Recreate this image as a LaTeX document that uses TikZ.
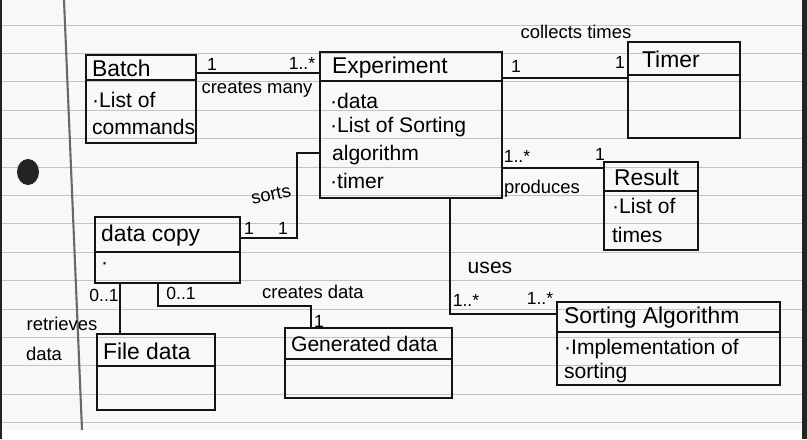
\documentclass[tikz,border=0pt]{standalone}
\usepackage{fontspec}
\setmainfont{Liberation Sans}
\usetikzlibrary{positioning,fit,calc}
\definecolor{ink}{RGB}{20,20,20}
\definecolor{paper}{RGB}{248,248,248}
\definecolor{rule}{RGB}{195,195,195}
\definecolor{margin}{RGB}{105,105,105}
\definecolor{edge}{RGB}{35,35,35}
\tikzset{
    cls/.style={rectangle,draw=ink,line width=1.3pt,inner sep=0pt},
    divider/.style={draw=ink,line width=1.3pt},
    title/.style={anchor=west,inner sep=1pt,font=\fontsize{13}{15}\selectfont},
    attr/.style={anchor=west,inner sep=1pt,font=\fontsize{12}{14}\selectfont},
    lbl/.style={inner sep=1pt,font=\fontsize{10.5}{12}\selectfont},
    mult/.style={inner sep=1pt,font=\fontsize{10}{12}\selectfont},
    conn/.style={draw=ink,line width=1.1pt},
    ruleline/.style={draw=rule,line width=0.5pt},
}

\begin{document}
\begin{tikzpicture}[x=0.2mm,y=-0.2mm]
\useasboundingbox (0,0) rectangle (807,439);
% notebook page
\fill[white] (0,0) rectangle (807,439);
\fill[paper] (2,0) rectangle (802,430);
\fill[edge] (802,0) rectangle (807,439);
\fill[edge] (0,0) rectangle (2,439);
\foreach \k in {0,...,14}
  \draw[ruleline] (2,{25+28.4*\k}) -- (802,{25+28.4*\k});
\draw[margin,line width=1.2pt] (64,0) -- (82,430);
\fill[edge] (28,172) ellipse [x radius=2.2mm, y radius=2.6mm];

% classes
\node[cls,fit={(86,55) (196,143)}] (batch) {};
\draw[divider] (batch.west |- 0,80) -- (batch.east |- 0,80);
\node[title] (batchT) at (90,68) {Batch};
\node[attr] (batchA) at (90,100) {·List of};
\node[attr] (batchB) at (90,127) {commands};

\node[cls,fit={(320,52) (502,198)}] (expt) {};
\draw[divider] (expt.west |- 0,81) -- (expt.east |- 0,81);
\node[title] (exptT) at (330,68) {Experiment};
\node[attr] (exptA) at (328,101) {·data};
\node[attr] (exptB) at (328,127) {·List of Sorting};
\node[attr] (exptC) at (330,155) {algorithm};
\node[attr] (exptD) at (328,181) {·timer};

\node[cls,fit={(628,42) (740,138)}] (timer) {};
\draw[divider] (timer.west |- 0,75) -- (timer.east |- 0,75);
\node[title] (timerT) at (640,59) {Timer};

\node[cls,fit={(604,162) (698,250)}] (result) {};
\draw[divider] (result.west |- 0,191) -- (result.east |- 0,191);
\node[title] (resultT) at (612,177) {Result};
\node[attr] (resultA) at (610,206) {·List of};
\node[attr] (resultB) at (610,235) {times};

\node[cls,fit={(95,217) (240,283)}] (copy) {};
\draw[divider] (copy.west |- 0,252) -- (copy.east |- 0,252);
\node[title] (copyT) at (99,236) {data copy};
\node[attr] (copyA) at (99,266) {·};

\node[cls,fit={(97,334) (215,410)}] (file) {};
\draw[divider] (file.west |- 0,366) -- (file.east |- 0,366);
\node[title] (fileT) at (101,351) {File data};

\node[cls,fit={(285,328) (452,398)}] (gen) {};
\draw[divider] (gen.west |- 0,359) -- (gen.east |- 0,359);
\node[title,font=\fontsize{12}{14}\selectfont] (genT) at (289,344) {Generated data};

\node[cls,fit={(557,302) (780,385)}] (sort) {};
\draw[divider] (sort.west |- 0,332) -- (sort.east |- 0,332);
\node[title] (sortT) at (562,318) {Sorting Algorithm};
\node[attr] (sortA) at (562,349) {·Implementation of};
\node[attr] (sortB) at (562,373) {sorting};

% associations
\draw[conn] (batch.east |- 0,73) -- (expt.west |- 0,73);
\node[mult] (m1) at (212,64) {1};
\node[mult] (m2) at (302,63) {1..*};
\node[lbl] (l1) at (257,89) {creates many};

\draw[conn] (expt.east |- 0,78) -- (timer.west |- 0,78);
\node[mult] (m3) at (516,66) {1};
\node[mult] (m4) at (620,62) {1};
\node[lbl] (l2) at (576,32) {collects times};

\draw[conn] (expt.east |- 0,168) -- (result.west |- 0,168);
\node[mult] (m5) at (517,156) {1..*};
\node[mult] (m6) at (600,154) {1};
\node[lbl] (l3) at (542,189) {produces};

\coordinate (sortsBend) at (297,153);
\draw[conn] (copy.east |- 0,238) -| (sortsBend) -- (expt.west |- sortsBend);
\node[mult] (m7) at (249,228) {1};
\node[mult] (m8) at (283,228) {1};
\node[lbl,rotate=12] (l4) at (271,195) {sorts};

\draw[conn] (expt.south -| 450,0) |- (sort.west |- 0,314);
\node[mult] (m9) at (466,300) {1..*};
\node[mult] (m10) at (540,298) {1..*};
\node[lbl,font=\fontsize{12}{14}\selectfont] (l5) at (490,268) {uses};

\draw[conn] (copy.south -| 120,0) -- (file.north -| 120,0);
\node[mult] (m11) at (104,295) {0..1};
\node[lbl] (l6) at (62,324) {retrieves};
\node[lbl] (l7) at (44,354) {data};

\coordinate (genBend) at (311,306);
\draw[conn] (copy.south -| 158,0) |- (genBend) -- (gen.north -| genBend);
\node[mult] (m12) at (181,293) {0..1};
\node[mult] (m13) at (319,321) {1};
\node[lbl] (l8) at (313,292) {creates data};
\end{tikzpicture}
\end{document}
